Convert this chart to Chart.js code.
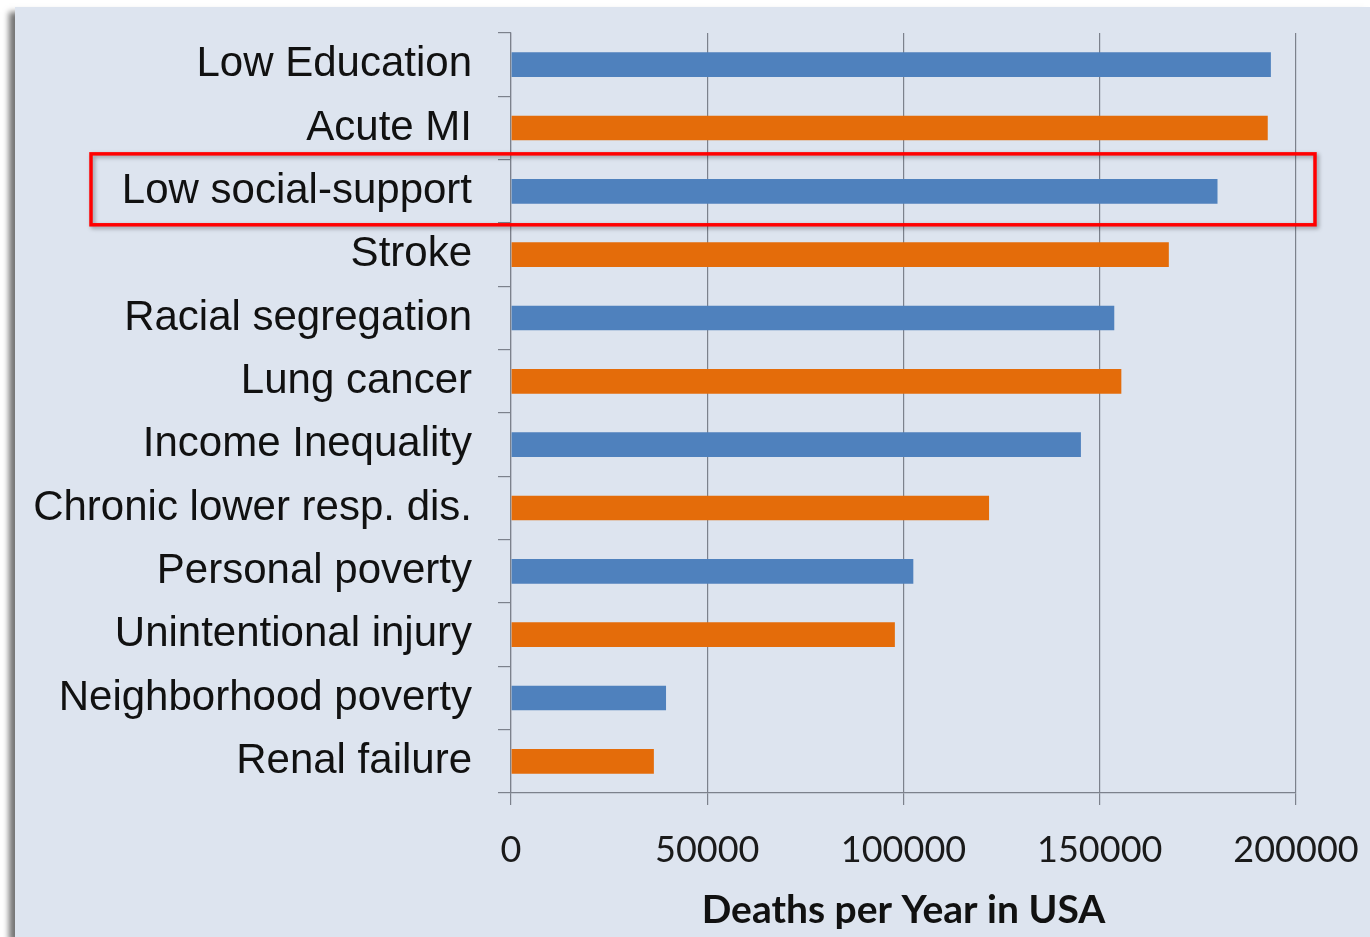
<!DOCTYPE html>
<html>
<head>
<meta charset="utf-8">
<script src="https://cdn.jsdelivr.net/npm/chart.js@4"></script>
<style>
  html, body { margin: 0; padding: 0; background: #fff; }
  body { width: 1370px; height: 937px; position: relative; overflow: hidden; }
  .frame {
    position: absolute; left: 15px; top: 7px; width: 1355px; height: 930px;
    background: #dde4ef;
    box-shadow: -6px 5px 6px rgba(0, 0, 0, 0.55);
  }
  .wrap { position: absolute; left: 0; top: 0; width: 1370px; height: 937px; }
</style>
</head>
<body>
<div class="frame"></div>
<div class="wrap"><canvas id="chart" width="1370" height="937"></canvas></div>
<script>
const categories = [
  "Low Education", "Acute MI", "Low social-support", "Stroke",
  "Racial segregation", "Lung cancer", "Income Inequality",
  "Chronic lower resp. dis.", "Personal poverty", "Unintentional injury",
  "Neighborhood poverty", "Renal failure"
];
const deaths = [
  193600, 192800, 180000, 167600,
  153700, 155500, 145200,
  121800, 102500, 97800,
  39500, 36400
];
const kinds = [
  "social", "disease", "social", "disease",
  "social", "disease", "social",
  "disease", "social", "disease",
  "social", "disease"
];
const highlighted = "Low social-support";

const BLUE = '#4f81bd';
const ORANGE = '#e46c0a';
const GRID = '#7c818c';

// red box around the highlighted row
const highlightBox = {
  id: 'highlightBox',
  afterDraw(chart) {
    const y = chart.scales.y;
    const i = categories.indexOf(highlighted);
    const cy = y.getPixelForValue(i);
    const half = (y.getPixelForValue(1) - y.getPixelForValue(0)) * 0.56;
    const ctx = chart.ctx;
    ctx.save();
    ctx.shadowColor = 'rgba(0,0,0,0.35)';
    ctx.shadowBlur = 4;
    ctx.shadowOffsetX = 2;
    ctx.shadowOffsetY = 2;
    ctx.strokeStyle = '#ff0000';
    ctx.lineWidth = 3.5;
    ctx.strokeRect(91, cy - half - 2, 1224, half * 2);
    ctx.restore();
  }
};

new Chart(document.getElementById('chart'), {
  type: 'bar',
  data: {
    labels: categories,
    datasets: [{
      data: deaths,
      backgroundColor: kinds.map(k => k === 'social' ? BLUE : ORANGE),
      barPercentage: 0.39,
      categoryPercentage: 1
    }]
  },
  options: {
    indexAxis: 'y',
    responsive: false,
    animation: false,
    layout: { padding: { top: 33, right: 74, left: 0, bottom: 0 } },
    plugins: {
      legend: { display: false },
      tooltip: { enabled: false }
    },
    scales: {
      x: {
        min: 0,
        max: 200000,
        ticks: {
          stepSize: 50000,
          color: '#1a1a1a',
          padding: 24,
          maxRotation: 0,
          font: { family: 'Lato', size: 36 },
          callback: v => String(v)
        },
        grid: { color: GRID, lineWidth: 1.2, tickLength: 12 },
        border: { color: GRID, width: 1.2 },
        title: {
          display: true,
          text: 'Deaths per Year in USA',
          color: '#111',
          font: { family: 'Lato', size: 39, weight: 'bold' },
          padding: { top: 0, bottom: 3 }
        },
        afterFit(scale) {
          scale.height = 144;
          scale.paddingLeft = 0;
          scale.paddingRight = 0;
        }
      },
      y: {
        ticks: {
          color: '#111',
          padding: 26,
          font: { family: 'Liberation Sans', size: 42 }
        },
        grid: { drawOnChartArea: false, color: GRID, lineWidth: 1.2, tickLength: 13 },
        border: { color: GRID, width: 1.2 },
        afterFit(scale) {
          scale.width = 511;
          scale.paddingTop = 0;
          scale.paddingBottom = 0;
        }
      }
    }
  },
  plugins: [highlightBox]
});
</script>
</body>
</html>
